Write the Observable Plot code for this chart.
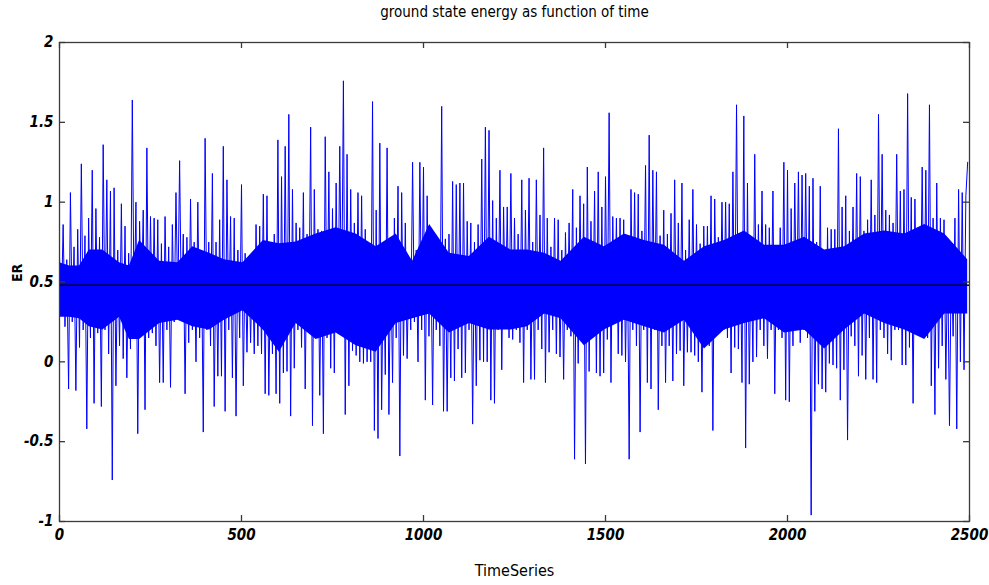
<!DOCTYPE html>
<html><head><meta charset="utf-8">
<script src="https://cdn.jsdelivr.net/npm/d3@7"></script>
<script src="https://cdn.jsdelivr.net/npm/@observablehq/plot@0.6"></script>
<style>
body{margin:0;background:#fff;}
#chart{width:989px;height:585px;}
</style></head><body><div id="chart"></div>
<script>
const title = "ground state energy as function of time";
const xLabel = "TimeSeries";
const yLabel = "ER";
const xTicks = [0, 500, 1000, 1500, 2000, 2500];
const yTicks = [-1, -0.5, 0, 0.5, 1, 1.5, 2];
const sampleStep = 5;
const meanLevel = 0.48;

// excursions of the series, one reading every 5 samples
const energy = [
0.66,0.3,0.86,0.22,0.64,-0.17,1.06,0.25,0.72,-0.18,
0.83,0.09,1.24,0.2,0.79,-0.42,0.9,0.15,1.2,-0.26,
0.96,0.18,0.78,-0.28,1.36,0.2,1.14,0.05,1.07,-0.74,
1.09,-0.15,0.7,0.1,0.99,0.02,0.85,-0.1,0.68,0.08,
1.64,0.3,1.0,-0.45,0.88,0.35,0.95,-0.3,1.34,0.15,
0.91,0.18,0.9,0.1,0.89,-0.13,0.74,-0.13,0.91,0.2,
0.72,-0.16,0.86,0.25,1.06,0.35,1.26,0.3,0.8,-0.2,
0.78,0.12,1.02,0.2,0.75,0.0,1.0,0.15,0.7,-0.44,
1.4,0.2,0.75,0.1,1.18,-0.28,0.75,-0.09,0.89,-0.09,
1.35,-0.31,1.14,0.2,0.91,-0.1,0.9,-0.34,0.7,0.15,
1.11,-0.15,0.68,0.06,0.66,0.12,0.66,0.05,0.86,0.1,
0.85,0.05,1.05,-0.2,1.04,-0.21,0.62,0.05,0.8,-0.2,
1.39,-0.26,1.16,-0.07,1.35,-0.06,1.55,-0.34,1.08,-0.04,
0.87,0.2,0.84,0.09,1.06,-0.17,0.8,0.25,1.47,-0.4,
1.08,0.2,0.83,-0.21,0.82,-0.45,1.41,0.15,1.19,-0.04,
0.96,-0.07,1.12,0.2,1.35,0.25,1.76,-0.33,1.3,-0.15,
1.08,0.07,0.87,0.04,1.06,0.0,1.04,-0.01,0.83,0.0,
0.7,0.0,1.63,-0.43,0.95,-0.48,1.37,-0.3,0.72,-0.08,
1.34,-0.33,0.7,-0.13,0.9,0.15,1.1,-0.59,1.06,0.04,
0.87,0.02,0.64,0.2,1.25,0.25,0.7,0.0,1.25,0.2,
1.22,-0.24,1.04,0.16,0.79,-0.27,0.8,0.2,0.77,0.1,
1.6,-0.31,0.77,-0.31,0.8,-0.1,1.13,-0.12,1.11,0.08,
1.12,-0.1,1.12,-0.07,0.88,0.2,0.87,-0.39,0.75,-0.15,
0.86,0.01,1.27,0.0,1.47,0.0,1.45,-0.24,1.01,-0.26,
0.9,0.2,1.2,-0.05,0.97,0.25,0.97,0.15,1.18,0.14,
0.9,0.2,0.8,0.12,1.14,-0.13,0.95,0.2,1.15,-0.11,
0.75,-0.11,1.14,0.2,0.92,0.08,1.34,-0.13,0.9,0.06,
0.72,0.2,0.9,0.05,0.89,0.03,0.7,-0.11,0.81,0.2,
0.87,0.16,1.08,-0.61,0.84,-0.01,1.04,0.15,0.99,-0.64,
1.22,-0.06,0.88,0.2,1.07,-0.07,1.19,-0.09,0.97,-0.07,
1.16,0.14,1.56,-0.13,0.91,0.25,0.9,0.05,0.9,0.04,
0.89,0.0,0.78,-0.61,1.08,0.2,1.06,0.1,1.05,-0.44,
0.82,0.2,1.23,-0.13,1.42,-0.17,1.2,0.2,1.19,-0.3,
0.79,0.1,0.95,-0.13,0.8,0.1,0.93,-0.12,1.14,0.05,
0.87,0.07,1.12,-0.15,0.7,0.06,0.89,0.06,1.08,0.04,
0.86,0.0,0.74,-0.19,0.85,0.15,0.85,0.1,1.04,-0.43,
1.02,0.2,0.78,0.25,1.0,0.2,1.0,0.15,0.99,-0.07,
1.19,0.09,1.61,0.08,0.76,-0.13,1.54,-0.54,1.12,-0.14,
0.74,0.0,1.3,0.03,0.86,0.2,1.07,0.1,0.86,0.02,
0.84,0.2,1.07,-0.2,0.73,0.2,0.84,0.15,1.25,-0.24,
1.2,-0.25,0.96,0.1,1.12,0.2,1.19,0.12,1.17,0.2,
1.18,0.15,1.1,-0.96,1.15,-0.31,0.75,-0.14,1.1,-0.17,
0.7,-0.19,0.84,-0.01,0.83,-0.02,0.83,-0.04,1.46,-0.24,
0.97,-0.05,1.04,-0.49,0.82,0.16,0.97,0.1,1.18,-0.09,
1.16,0.04,0.82,-0.11,0.89,0.15,1.14,-0.11,0.92,-0.13,
1.55,0.2,1.3,0.15,0.95,0.05,0.92,0.01,0.87,0.2,
1.3,0.2,1.07,-0.02,1.08,-0.02,1.68,0.09,1.03,-0.26,
1.02,0.2,0.83,0.25,1.22,0.2,1.2,0.15,1.61,-0.15,
0.9,-0.33,1.12,-0.04,0.9,0.1,0.89,-0.11,0.65,-0.4,
0.65,0.16,0.9,-0.42,1.08,0.0,1.06,-0.05,1.04,1.25
];

// dense core of the trace (where the samples overlap into a solid band)
const bandSample = [0,28,55,82,119,165,192,220,275,325,366,412,453,504,560,604,650,705,760,815,870,925,970,1017,1071,1126,1181,1240,
  1286,1333,1378,1442,1497,1552,1607,1662,1717,1772,1827,1882,1937,1992,2047,2102,2157,2212,2267,2322,2377,2432,2495];
const bandTop = [0.62,0.6,0.6,0.7,0.7,0.62,0.6,0.76,0.63,0.62,0.72,0.68,0.64,0.62,0.76,0.74,0.75,0.8,0.84,0.8,0.72,0.8,0.63,0.86,0.68,0.66,0.78,0.7,
  0.7,0.68,0.63,0.78,0.72,0.8,0.76,0.73,0.63,0.72,0.76,0.82,0.73,0.73,0.78,0.7,0.72,0.8,0.82,0.8,0.86,0.8,0.64];
const bandBottom = [0.28,0.28,0.27,0.22,0.2,0.28,0.14,0.14,0.24,0.26,0.22,0.2,0.26,0.32,0.2,0.06,0.24,0.14,0.18,0.1,0.06,0.24,0.27,0.3,0.18,0.24,0.2,0.2,
  0.22,0.3,0.27,0.1,0.2,0.26,0.22,0.18,0.26,0.08,0.2,0.24,0.27,0.18,0.2,0.08,0.2,0.3,0.24,0.2,0.14,0.3,0.3];

const series = energy.map((e, i) => ({t: i * sampleStep, e}));
const band = bandSample.map((t, i) => ({t, hi: bandTop[i], lo: bandBottom[i]}));

const FONT = '"Liberation Sans Narrow","DejaVu Sans Condensed","Arial Narrow",sans-serif';
const W = 989, H = 585, mL = 59, mR = 20, mT = 42, mB = 64;
const plotW = W - mL - mR, plotH = H - mT - mB;
const axisColor = "#3a3a3a";
const traceColor = "#0000ff";

const chart = Plot.plot({
  width: W, height: H,
  marginLeft: mL, marginRight: mR, marginTop: mT, marginBottom: mB,
  style: {fontFamily: FONT, background: "#fff", overflow: "visible"},
  x: {domain: [0, 2500], axis: null},
  y: {domain: [-1, 2], axis: null},
  marks: [
    Plot.areaY(band, {x: "t", y1: "lo", y2: "hi", fill: traceColor, curve: "linear"}),
    Plot.lineY(series, {x: "t", y: "e", stroke: traceColor, strokeWidth: 1}),
    Plot.ruleY([meanLevel], {stroke: "#000", strokeWidth: 1.5}),
    Plot.frame({stroke: axisColor, strokeWidth: 1.3}),
    Plot.tickY(yTicks, {y: d => d, insetRight: plotW - 6, stroke: axisColor, strokeWidth: 1.3}),
    Plot.tickY(yTicks, {y: d => d, insetLeft: plotW - 6, stroke: axisColor, strokeWidth: 1.3}),
    Plot.tickX(xTicks, {x: d => d, insetTop: plotH - 6, stroke: axisColor, strokeWidth: 1.3}),
    Plot.tickX(xTicks, {x: d => d, insetBottom: plotH - 6, stroke: axisColor, strokeWidth: 1.3}),
    Plot.text(yTicks, {y: d => d, frameAnchor: "left", textAnchor: "end", dx: -6, text: d => String(d),
      fontSize: 15, fontWeight: "bold", fontStyle: "italic", fill: "#000"}),
    Plot.text(xTicks, {x: d => d, frameAnchor: "bottom", lineAnchor: "top", dy: 8, text: d => String(d),
      fontSize: 15, fontWeight: "bold", fontStyle: "italic", fill: "#000"}),
    Plot.text([title], {frameAnchor: "top", lineAnchor: "middle", dy: -30, text: d => d,
      fontSize: 15, fill: "#000"}),
    Plot.text([xLabel], {frameAnchor: "bottom", lineAnchor: "middle", dy: 49, text: d => d,
      fontSize: 16, fill: "#000"}),
    Plot.text([yLabel], {frameAnchor: "left", dx: -42, rotate: -90, text: d => d,
      fontSize: 14, fontWeight: "bold", fill: "#000"})
  ]
});
document.getElementById("chart").appendChild(chart);
</script>
</body></html>
